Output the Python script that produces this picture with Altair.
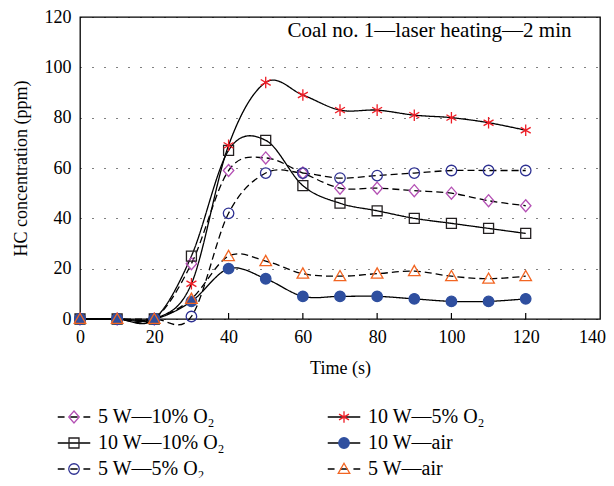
import altair as alt
import pandas as pd

time_s = [0, 10, 20, 30, 40, 50, 60, 70, 80, 90, 100, 110, 120]

s_5w_10 = [0, 0, 0, 22, 59, 64, 58, 52, 52, 51, 50, 47, 45]
s_10w_10 = [0, 0, 0, 25, 67, 71, 53, 46, 43, 40, 38, 36, 34]
s_5w_5 = [0, 0, 0, 1, 42, 58, 58, 56, 57, 58, 59, 59, 59]
s_10w_5 = [0, 0, 0, 14, 69, 94, 89, 83, 83, 81, 80, 78, 75]
s_10w_air = [0, 0, 0, 7, 20, 16, 9, 9, 9, 8, 7, 7, 8]
s_5w_air = [0, 0, 0, 8, 25, 23, 18, 17, 18, 19, 17, 16, 17]

names = ["5 W—10% O₂", "10 W—10% O₂", "5 W—5% O₂", "10 W—5% O₂", "10 W—air", "5 W—air"]
series_values = [s_5w_10, s_10w_10, s_5w_5, s_10w_5, s_10w_air, s_5w_air]
colors = ["#b450b4", "#231f20", "#2e3192", "#ee1c25", "#2f4f9f", "#f26522"]
fills = ["transparent", "transparent", "transparent", "transparent", "#2f4f9f", "transparent"]
dashed = [True, False, True, False, False, True]

x_ticks = [0, 20, 40, 60, 80, 100, 120, 140]
y_ticks = [0, 20, 40, 60, 80, 100, 120]
inner_ticks = [20, 40, 60, 80, 100, 120]

rows = []
for n, vals in zip(names, series_values):
    for t, v in zip(time_s, vals):
        rows.append({"time": t, "value": v, "series": n})
df = pd.DataFrame(rows)
ticks_df = pd.DataFrame({"t": inner_ticks})

DIAMOND = "M0,-1.15L1,0L0,1.15L-1,0Z"
STAR = "M0,-1.1L0,1.1M-0.95,-0.55L0.95,0.55M-0.95,0.55L0.95,-0.55"
SQUARE = "M-0.95,-0.95H0.95V0.95H-0.95Z"
CIRCLE = "M1,0A1,1 0 1,1 -1,0A1,1 0 1,1 1,0Z"
TRIANGLE = "M0,-1.1L1.1,0.85H-1.1Z"
shape_paths = [DIAMOND, SQUARE, CIRCLE, STAR, CIRCLE, TRIANGLE]
EXTENT = "M-3.1,0M3.1,0"
legend_marker_paths = [EXTENT + p for p in shape_paths]
dash_path = "M-3.1,0H-1.8M-0.7,0H0.7M1.8,0H3.1"
solid_path = "M-3.1,0H3.1"
line_paths = [dash_path if d else solid_path for d in dashed]
dash_range = [[7, 4] if d else [1, 0] for d in dashed]

FONT = "Liberation Serif"
W, H = 520, 302
MS = 110

xs = alt.Scale(domain=[0, 140], nice=False)
ys = alt.Scale(domain=[0, 120], nice=False)

x_enc = alt.X("time:Q", scale=xs, axis=alt.Axis(
    values=x_ticks, title="Time (s)", grid=False, tickSize=0, labelPadding=9, titlePadding=13,
    domain=False, titleFontWeight="normal", labelFlush=False,
    labelOffset={"condition": {"test": "datum.value == 140", "value": -8}, "value": 0}))
y_enc = alt.Y("value:Q", scale=ys, axis=alt.Axis(values=y_ticks, title="HC concentration (ppm)",
                                                   grid=True, gridDash=[1, 11], gridColor="black",
                                                   gridOpacity=1, gridWidth=1, tickSize=0,
                                                   labelPadding=9, titlePadding=14, domain=False,
                                                   titleFontWeight="normal"))

base = alt.Chart(df)

lines = base.mark_line(interpolate="cardinal", color="black", strokeWidth=1.3).encode(
    x=x_enc, y=y_enc, detail="series:N",
    strokeDash=alt.StrokeDash("series:N", scale=alt.Scale(domain=names, range=dash_range), legend=None),
)

points = base.mark_point(opacity=1, strokeWidth=1.3, size=MS).encode(
    x=alt.X("time:Q", scale=xs),
    y=alt.Y("value:Q", scale=ys),
    shape=alt.Shape("series:N", scale=alt.Scale(domain=names, range=shape_paths), legend=None),
    stroke=alt.Stroke("series:N", scale=alt.Scale(domain=names, range=colors), legend=None),
    fill=alt.Fill("series:N", scale=alt.Scale(domain=names, range=fills), legend=None),
)

tick_marks = alt.Chart(ticks_df).mark_rule(color="black", strokeWidth=1.2).encode(
    x=alt.X("t:Q", scale=xs),
    y=alt.value(H),
    y2=alt.value(H - 6),
)

def make_legend(label_color):
    return alt.Legend(
        orient="none", legendX=-16, legendY=390, columns=2, title=None,
        labelFont=FONT, labelFontSize=20, labelColor=label_color, labelOffset=14,
        rowPadding=6, columnPadding=100, symbolSize=MS, symbolStrokeWidth=1.3,
        padding=0, labelLimit=300,
    )

leg_lines = base.transform_filter("false").mark_point(opacity=1, strokeWidth=1.3, size=MS,
                                                      color="black", filled=False).encode(
    x=alt.X("time:Q", scale=xs),
    y=alt.Y("value:Q", scale=ys),
    shape=alt.Shape("series:N", scale=alt.Scale(domain=names, range=line_paths),
                    legend=make_legend("transparent")),
)

mk_leg = make_legend("black")
leg_marks = base.transform_filter("false").mark_point(opacity=1, strokeWidth=1.3, size=MS).encode(
    x=alt.X("time:Q", scale=xs),
    y=alt.Y("value:Q", scale=ys),
    shape=alt.Shape("series:N", scale=alt.Scale(domain=names, range=legend_marker_paths), legend=mk_leg),
    stroke=alt.Stroke("series:N", scale=alt.Scale(domain=names, range=colors), legend=mk_leg),
    fill=alt.Fill("series:N", scale=alt.Scale(domain=names, range=fills), legend=mk_leg),
)

chart = alt.layer(lines, tick_marks, points, leg_lines, leg_marks).resolve_scale(
    shape="independent", stroke="independent", fill="independent", strokeDash="independent"
).properties(
    width=W, height=H,
    autosize=alt.AutoSizeParams(type="none"),
    padding={"left": 72, "top": 9, "right": 6, "bottom": 159},
    title=alt.TitleParams("Coal no. 1—laser heating—2 min", anchor="end", orient="top",
                          font=FONT, fontSize=21, fontWeight="normal", color="black",
                          offset=0, dy=44, dx=-34, baseline="middle"),
).configure_view(
    stroke="black", strokeWidth=1.3
).configure_axis(
    labelFont=FONT, labelFontSize=18, labelColor="black",
    titleFont=FONT, titleFontSize=18, titleColor="black", titleFontWeight="normal",
)

chart.save("out.html", embed_options={"renderer": "svg", "actions": False})
